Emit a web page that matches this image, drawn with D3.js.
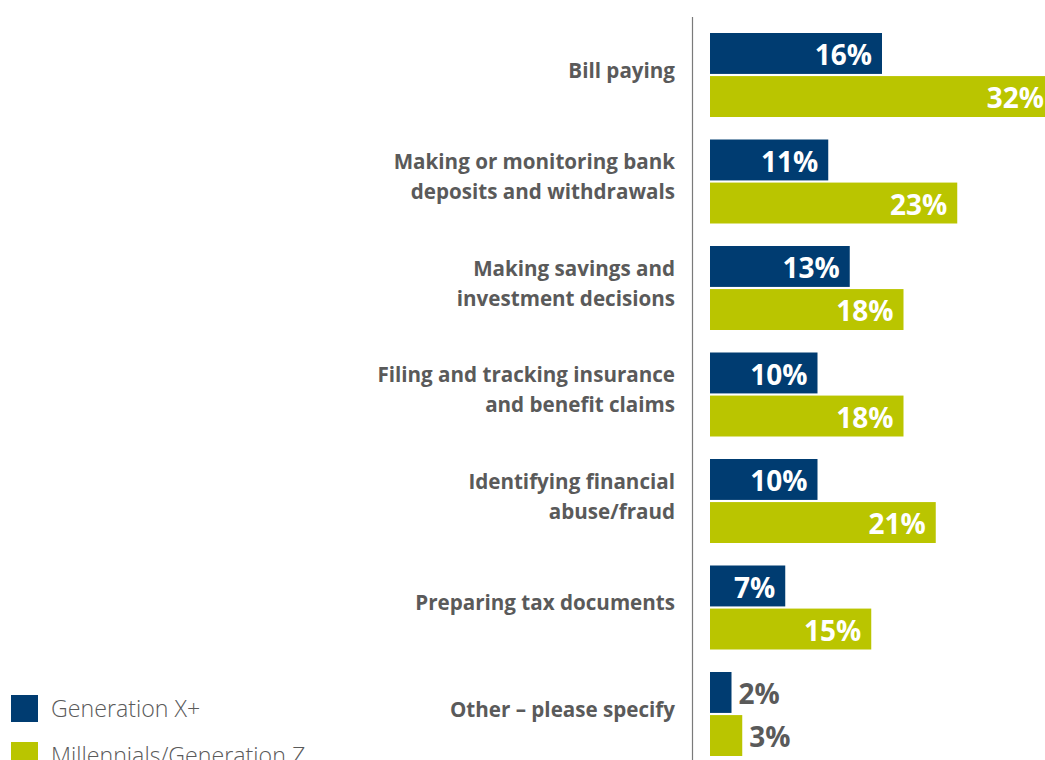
<!DOCTYPE html>
<html>
<head>
<meta charset="utf-8">
<script src="https://cdn.jsdelivr.net/npm/d3@7"></script>
<style>
  html, body { margin: 0; padding: 0; background: #fff; }
  svg { display: block; font-family: "Open Sans", "Noto Sans", sans-serif; }
</style>
</head>
<body>
<svg id="chart" width="1045" height="760"></svg>
<script>
// Survey categories (each label may span two lines)
const categories = [
  ["Bill paying"],
  ["Making or monitoring bank", "deposits and withdrawals"],
  ["Making savings and", "investment decisions"],
  ["Filing and tracking insurance", "and benefit claims"],
  ["Identifying financial", "abuse/fraud"],
  ["Preparing tax documents"],
  ["Other \u2013 please specify"]
];
const seriesNames = ["Generation X+", "Millennials/Generation Z"];
const genX = [16, 11, 13, 10, 10, 7, 2];
const millennials = [32, 23, 18, 18, 21, 15, 3];
const colors = ["#003c71", "#bac500"];

const svg = d3.select("#chart");
const barLeft = 710;
const pxPerPct = 10.75;

const x = d3.scaleLinear().domain([0, 32]).range([barLeft, barLeft + 32 * pxPerPct]);
const y = d3.scaleBand()
  .domain(d3.range(categories.length))
  .range([33, 756])
  .paddingInner(22.5 / 106.5)
  .paddingOuter(0);
const sub = d3.scaleBand().domain([0, 1]).range([0, y.bandwidth()]).paddingInner(0.05);

// vertical baseline
svg.append("line")
  .attr("x1", 692.5).attr("x2", 692.5)
  .attr("y1", 17).attr("y2", 760)
  .attr("stroke", "#7a7a7a").attr("stroke-width", 1.2);

const groups = svg.selectAll("g.grp")
  .data(categories.map((c, i) => ({ label: c, vals: [genX[i], millennials[i]], i })))
  .join("g").attr("class", "grp")
  .attr("transform", d => `translate(0,${y(d.i)})`);

// category labels
groups.append("text")
  .attr("text-anchor", "end")
  .attr("font-weight", 700)
  .attr("font-size", 20.6)
  .attr("fill", "#5a5a5a")
  .each(function(d) {
    const t = d3.select(this);
    const lh = 30;
    const c = y.bandwidth() / 2 - 4.5;
    const start = c - (d.label.length - 1) * lh / 2;
    d.label.forEach((line, k) => {
      t.append("tspan").attr("x", 675).attr("y", start + k * lh).attr("dy", "0.36em").text(line);
    });
  });

// bars and value labels
groups.each(function(d) {
  const g = d3.select(this);
  d.vals.forEach((v, s) => {
    const top = sub(s);
    const h = sub.bandwidth();
    g.append("rect")
      .attr("x", x(0)).attr("y", top)
      .attr("width", x(v) - x(0)).attr("height", h)
      .attr("fill", colors[s]);
    const inside = v >= 5;
    g.append("text")
      .attr("x", inside ? x(v) - 10 : x(v) + 7)
      .attr("y", top + h / 2 + 1.5)
      .attr("dy", "0.36em")
      .attr("text-anchor", inside ? "end" : "start")
      .attr("font-weight", 700)
      .attr("font-size", 28)
      .attr("fill", inside ? "#ffffff" : "#5a5a5a")
      .text(v + "%");
  });
});

// legend
const legend = svg.append("g");
seriesNames.forEach((name, i) => {
  const ly = 695 + i * 47;
  legend.append("rect")
    .attr("x", 11).attr("y", ly).attr("width", 27).attr("height", 27)
    .attr("fill", colors[i]);
  legend.append("text")
    .attr("x", 51).attr("y", ly + 13.5).attr("dy", "0.36em")
    .attr("font-size", 23.2).attr("font-weight", 300)
    .attr("fill", "#5a5a5a")
    .text(name);
});
</script>
</body>
</html>
